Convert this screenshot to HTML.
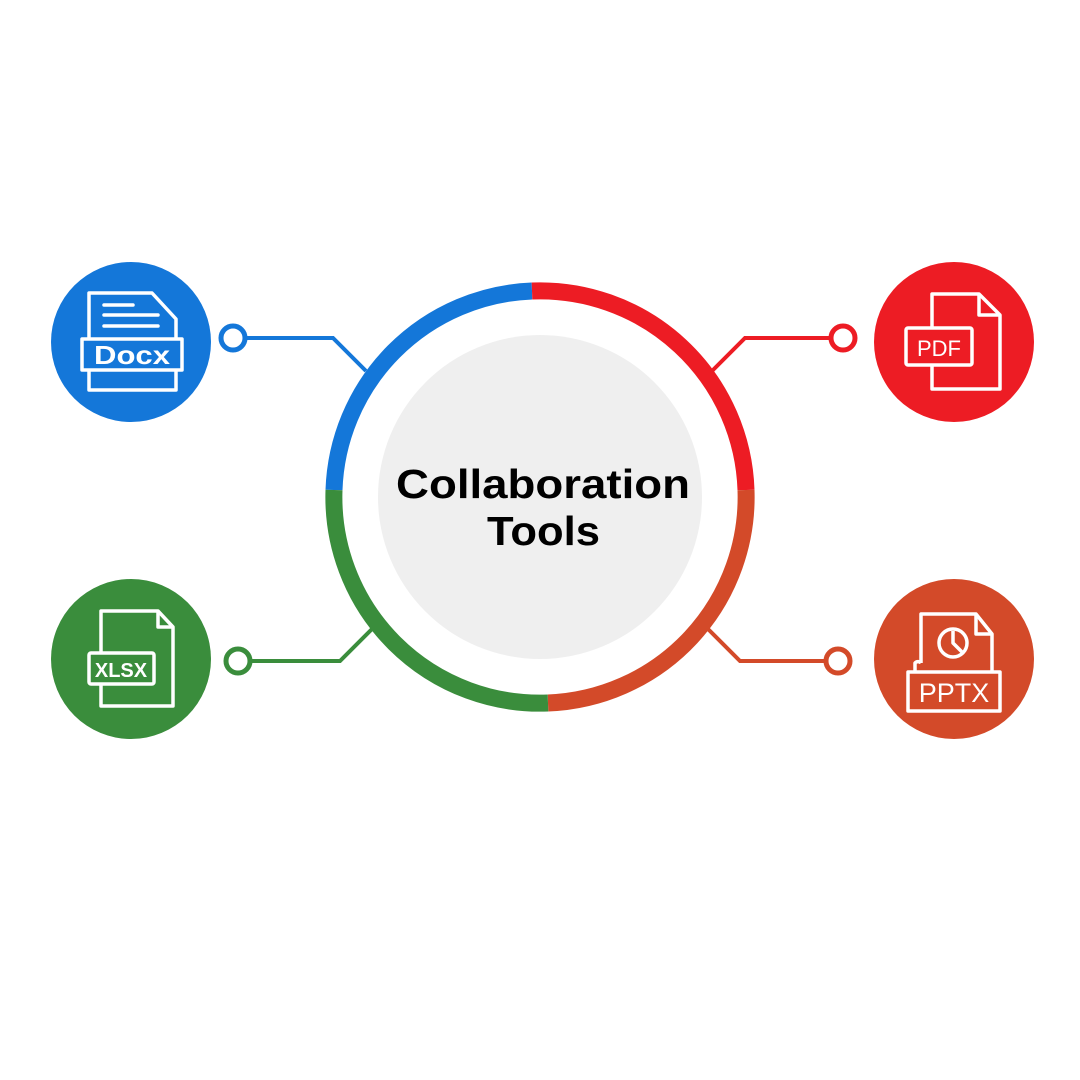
<!DOCTYPE html>
<html><head><meta charset="utf-8"><style>body{margin:0;background:#fff}svg{display:block}</style></head><body>
<svg width="1080" height="1080" viewBox="0 0 1080 1080" xmlns="http://www.w3.org/2000/svg">
<rect width="1080" height="1080" fill="#fff"/>
<circle cx="540" cy="497" r="162" fill="#efefef"/>
<g fill="none" stroke-width="17">
<path d="M334 490 A206 206 0 0 1 532 291" stroke="#1477d9"/>
<path d="M532 291 A206 206 0 0 1 746 490" stroke="#ed1c24"/>
<path d="M746 490 A206 206 0 0 1 548 703" stroke="#d34a29"/>
<path d="M548 703 A206 206 0 0 1 334 490" stroke="#3a8d3c"/>
</g>
<g fill="none" stroke-width="4">
<path d="M246 338 H333 L366 371" stroke="#1477d9"/>
<circle cx="233" cy="338" r="12" stroke="#1477d9" stroke-width="5" fill="#fff"/>
<path d="M830 338 H745 L712 371" stroke="#ed1c24"/>
<circle cx="843" cy="338" r="12" stroke="#ed1c24" stroke-width="5" fill="#fff"/>
<path d="M251 661 H340 L372 629" stroke="#3a8d3c"/>
<circle cx="238" cy="661" r="12" stroke="#3a8d3c" stroke-width="5" fill="#fff"/>
<path d="M825 661 H740 L708 629" stroke="#d34a29"/>
<circle cx="838" cy="661" r="12" stroke="#d34a29" stroke-width="5" fill="#fff"/>
</g>
<circle cx="131" cy="342" r="80" fill="#1477d9"/>
<circle cx="954" cy="342" r="80" fill="#ed1c24"/>
<circle cx="131" cy="659" r="80" fill="#3a8d3c"/>
<circle cx="954" cy="659" r="80" fill="#d34a29"/>
<g fill="none" stroke="#fff" stroke-width="3.5" stroke-linejoin="round">
<path d="M89 338 V293 H152 L176 319 V338 M89 370 V390 H176 V370"/>
<rect x="82" y="339" width="100" height="31"/>
<path d="M104 305 H133 M104 315 H158 M104 326 H158" stroke-linecap="round"/>
<path d="M932 328 V294 H979 L1000 315 V389 H932 V365"/>
<path d="M979 294 V315 H1000"/>
<rect x="906" y="328" width="66" height="37" rx="2"/>
<path d="M101 652 V611 H158 L173 627 V706 H101 V684"/>
<path d="M158 611 V627 H173"/>
<rect x="89" y="653" width="65" height="31" rx="2"/>
<path d="M921 663 V614 H976 L992 634 V672"/>
<path d="M976 614 V634 H992"/>
<circle cx="953" cy="643" r="14"/>
<path d="M953 631 V643 L962 652"/>
<path d="M915 672 V663 A4 4 0 0 1 921 663 M908 672 H1000 V711 H908 Z"/>
</g>
<g fill="#fff" font-family="Liberation Sans, sans-serif" font-weight="bold" text-anchor="middle">
<text x="132" y="364" font-size="26" textLength="76" lengthAdjust="spacingAndGlyphs">Docx</text>
<text x="939" y="356" font-size="22" font-weight="normal">PDF</text>
<text x="121" y="677" font-size="20">XLSX</text>
<text x="954" y="702" font-size="27" font-weight="normal">PPTX</text>
</g>
<g font-family="Liberation Sans, sans-serif" font-weight="bold" font-size="41" fill="#000">
<text x="396" y="498" textLength="294" lengthAdjust="spacingAndGlyphs">Collaboration</text>
<text x="487" y="545" textLength="113" lengthAdjust="spacingAndGlyphs">Tools</text>
</g>
</svg>
</body></html>
